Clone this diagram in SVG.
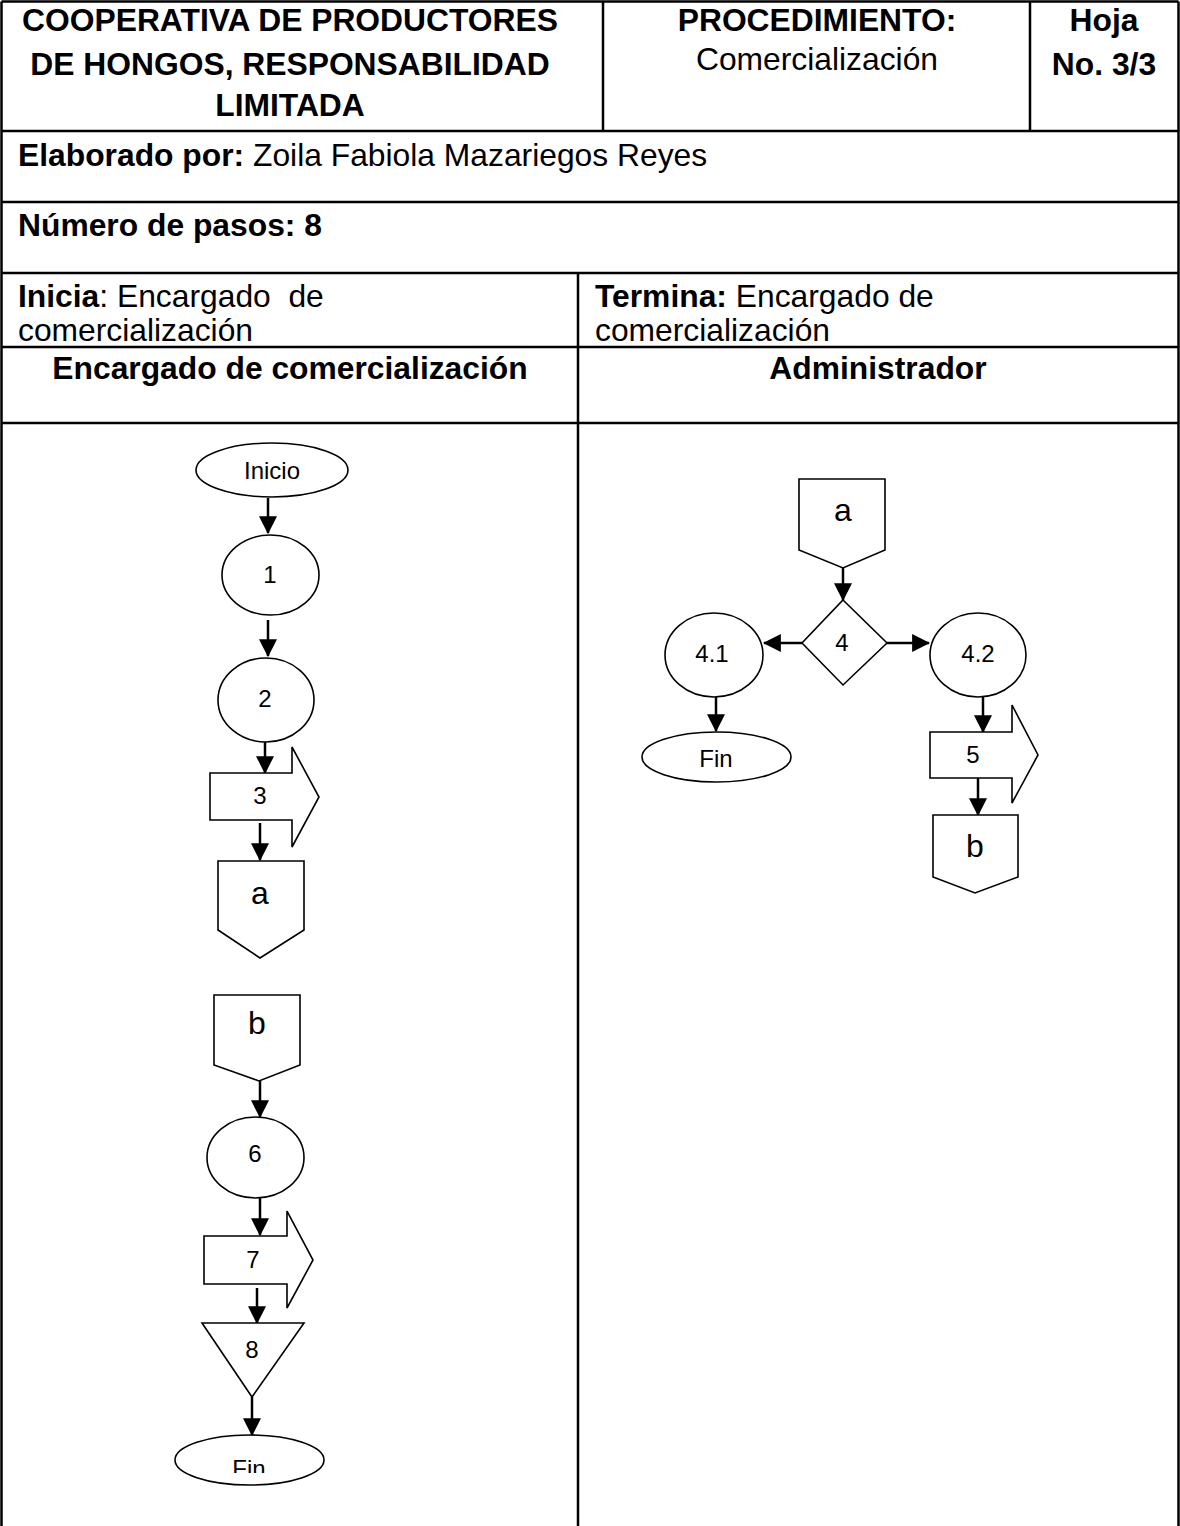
<svg xmlns="http://www.w3.org/2000/svg" width="1180" height="1526" viewBox="0 0 1180 1526">
<style>
.t{font-family:"Liberation Sans",Arial,sans-serif;fill:#000}
.h{font-size:31.8px}
.b{font-weight:bold}
.grid{stroke:#000;stroke-width:2.5;fill:none}
.shape{fill:#fff;stroke:#000;stroke-width:1.6}
.conn{stroke:#000;stroke-width:2.5;fill:none}
.n{font-size:24px}
.lg{font-size:32px}
.tm{font-size:24px}
</style>
<defs>
<marker id="ah" markerUnits="userSpaceOnUse" markerWidth="18" markerHeight="18" viewBox="0 0 16 16" refX="15" refY="8" orient="auto">
<path d="M0,0 L16,8 L0,16 Z" fill="#000"/>
</marker>
<clipPath id="finclip"><rect x="150" y="1430" width="200" height="43"/></clipPath>
</defs>
<rect width="1180" height="1526" fill="#fff"/>
<g id="table">
<path class="grid" d="M1.5,1.5 H1178.5 M1.5,1.5 V1526 M1178.5,1.5 V1526 M1.5,131 H1178.5 M1.5,202 H1178.5 M1.5,273 H1178.5 M1.5,347 H1178.5 M1.5,423 H1178.5 M603,1.5 V131 M1030,1.5 V131 M578,273 V1526"/>
<text class="t h b" x="290" y="31" text-anchor="middle">COOPERATIVA DE PRODUCTORES</text>
<text class="t h b" x="290" y="75" text-anchor="middle">DE HONGOS, RESPONSABILIDAD</text>
<text class="t h b" x="290" y="116" text-anchor="middle">LIMITADA</text>
<text class="t h b" x="817" y="31" text-anchor="middle">PROCEDIMIENTO:</text>
<text class="t h" x="817" y="70" text-anchor="middle">Comercialización</text>
<text class="t h b" x="1104" y="31" text-anchor="middle">Hoja</text>
<text class="t h b" x="1104" y="75" text-anchor="middle">No. 3/3</text>
<text class="t h" x="18" y="166"><tspan class="b">Elaborado por:</tspan> Zoila Fabiola Mazariegos Reyes</text>
<text class="t h b" x="18" y="236">Número de pasos: 8</text>
<text class="t h" x="18" y="307"><tspan class="b">Inicia</tspan>: Encargado&#160; de</text>
<text class="t h" x="18" y="341">comercialización</text>
<text class="t h" x="595" y="307"><tspan class="b">Termina:</tspan> Encargado de</text>
<text class="t h" x="595" y="341">comercialización</text>
<text class="t h b" x="290" y="379" text-anchor="middle">Encargado de comercialización</text>
<text class="t h b" x="878" y="379" text-anchor="middle">Administrador</text>
</g>
<g id="connectors">
<line class="conn" x1="268" y1="498" x2="268" y2="533" marker-end="url(#ah)"/>
<line class="conn" x1="268" y1="620" x2="268" y2="656" marker-end="url(#ah)"/>
<line class="conn" x1="265" y1="742" x2="265" y2="773" marker-end="url(#ah)"/>
<line class="conn" x1="260" y1="823" x2="260" y2="860" marker-end="url(#ah)"/>
<line class="conn" x1="260" y1="1081" x2="260" y2="1117" marker-end="url(#ah)"/>
<line class="conn" x1="260" y1="1198" x2="260" y2="1235" marker-end="url(#ah)"/>
<line class="conn" x1="257" y1="1288" x2="257" y2="1323" marker-end="url(#ah)"/>
<line class="conn" x1="252" y1="1397" x2="252" y2="1435" marker-end="url(#ah)"/>
<line class="conn" x1="843" y1="568" x2="843" y2="600" marker-end="url(#ah)"/>
<line class="conn" x1="802" y1="643" x2="764" y2="643" marker-end="url(#ah)"/>
<line class="conn" x1="887" y1="643" x2="929" y2="643" marker-end="url(#ah)"/>
<line class="conn" x1="716" y1="697" x2="716" y2="731" marker-end="url(#ah)"/>
<line class="conn" x1="983" y1="697" x2="983" y2="732" marker-end="url(#ah)"/>
<line class="conn" x1="978" y1="778" x2="978" y2="815" marker-end="url(#ah)"/>
</g>
<g id="inicio">
<ellipse class="shape" cx="272" cy="470" rx="76" ry="27"/>
<text class="t tm" x="272" y="479" text-anchor="middle">Inicio</text>
</g>
<g id="paso1">
<ellipse class="shape" cx="270.5" cy="575" rx="48.5" ry="40"/>
<text class="t n" x="270" y="583" text-anchor="middle">1</text>
</g>
<g id="paso2">
<ellipse class="shape" cx="266" cy="700" rx="48" ry="42"/>
<text class="t n" x="265" y="707" text-anchor="middle">2</text>
</g>
<g id="paso3">
<path class="shape" d="M210,773 H292 V747 L319,797 L292,847 V820 H210 Z"/>
<text class="t n" x="260" y="804" text-anchor="middle">3</text>
</g>
<g id="conector-a-izq">
<path class="shape" d="M218,861 H304 V930 L260,958 L218,930 Z"/>
<text class="t lg" x="260" y="904" text-anchor="middle">a</text>
</g>
<g id="conector-b-izq">
<path class="shape" d="M214,995 H300 V1065 L259,1081 L214,1065 Z"/>
<text class="t lg" x="257" y="1034" text-anchor="middle">b</text>
</g>
<g id="paso6">
<ellipse class="shape" cx="255.5" cy="1157.5" rx="48.5" ry="40.5"/>
<text class="t n" x="255" y="1162" text-anchor="middle">6</text>
</g>
<g id="paso7">
<path class="shape" d="M204,1236 H287 V1211 L313,1260 L287,1308 V1284 H204 Z"/>
<text class="t n" x="253" y="1268" text-anchor="middle">7</text>
</g>
<g id="paso8">
<path class="shape" d="M202,1323 H304 L252,1397 Z"/>
<text class="t n" x="252" y="1358" text-anchor="middle">8</text>
</g>
<g id="fin-izq">
<ellipse class="shape" cx="249.5" cy="1460" rx="74.5" ry="25"/>
<text class="t tm" x="249" y="1477" text-anchor="middle" clip-path="url(#finclip)">Fin</text>
</g>
<g id="conector-a-der">
<path class="shape" d="M799,479 H885 V550 L843,568 L799,550 Z"/>
<text class="t lg" x="843" y="521" text-anchor="middle">a</text>
</g>
<g id="decision4">
<path class="shape" d="M843,600 L887,643 L843,685 L802,643 Z"/>
<text class="t n" x="842" y="651" text-anchor="middle">4</text>
</g>
<g id="paso4-1">
<ellipse class="shape" cx="714" cy="655" rx="49" ry="42"/>
<text class="t n" x="712" y="662" text-anchor="middle">4.1</text>
</g>
<g id="paso4-2">
<ellipse class="shape" cx="978" cy="655" rx="48" ry="42"/>
<text class="t n" x="978" y="662" text-anchor="middle">4.2</text>
</g>
<g id="fin-der">
<ellipse class="shape" cx="716.5" cy="757" rx="74.5" ry="25"/>
<text class="t tm" x="716" y="767" text-anchor="middle">Fin</text>
</g>
<g id="paso5">
<path class="shape" d="M930,732 H1012 V705 L1038,755 L1012,803 V778 H930 Z"/>
<text class="t n" x="973" y="763" text-anchor="middle">5</text>
</g>
<g id="conector-b-der">
<path class="shape" d="M933,815 H1018 V877 L975,893 L933,877 Z"/>
<text class="t lg" x="975" y="857" text-anchor="middle">b</text>
</g>
</svg>
